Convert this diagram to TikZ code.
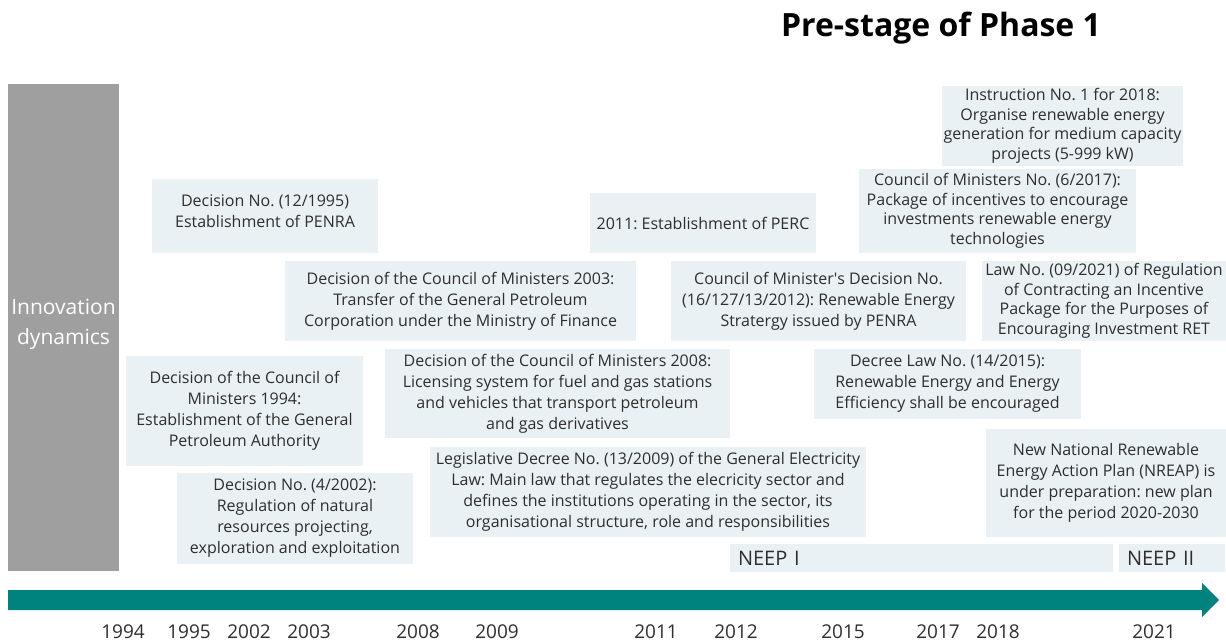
\documentclass[tikz,border=0pt]{standalone}
\usepackage{fontspec}
\setmainfont{Open Sans}
\definecolor{boxfill}{HTML}{EAF1F4}
\definecolor{barGray}{HTML}{9F9F9F}
\definecolor{tealA}{HTML}{00827F}
\definecolor{txt}{HTML}{2E2E2E}
\frenchspacing
\begin{document}
\begin{tikzpicture}[x=1pt,y=-1pt,
  ev/.style={fill=boxfill, text=txt, inner sep=0pt, align=center, font=\fontsize{16}{21}\selectfont},
  evtight/.style={ev, font=\fontsize{16}{19.5}\selectfont},
  evtext/.style={text=txt, inner sep=0pt, align=center, font=\fontsize{16}{21}\selectfont},
  neepbar/.style={fill=boxfill, text=txt, inner ysep=0pt, inner xsep=8pt, align=left, font=\fontsize{20}{24}\selectfont, minimum height=28pt},
  yr/.style={text=txt, inner sep=0pt, font=\fontsize{19}{21}\selectfont},
]
\useasboundingbox (0,0) rectangle (1226,641);

% title
\node[text=black, font=\fontsize{32}{36}\selectfont\bfseries] (title) at (941,28) {Pre-stage of Phase 1};

% gray side bar
\node[fill=barGray, minimum width=111pt, minimum height=487pt, inner sep=0pt] (side) at (63.5,327.5) {};
\node[text=white, align=center, inner sep=0pt, font=\fontsize{21}{30}\selectfont] (sidelbl) at (63.5,324) {Innovation\\dynamics};

% event boxes
\node[ev, minimum width=226pt, minimum height=74pt] (b1995) at (265,216) {};
\node[evtext] (b1995t) at (265,211) {Decision No. (12/1995)\\Establishment of PENRA};
\node[ev, minimum width=351pt, minimum height=80pt] (b2003) at (460.5,301)
  {Decision of the Council of Ministers 2003:\\Transfer of the General Petroleum\\Corporation under the Ministry of Finance};
\node[ev, minimum width=237pt, minimum height=110pt] (b1994) at (244.5,411)
  {Decision of the Council of\\Ministers 1994:\\Establishment of the General\\Petroleum Authority};
\node[ev, minimum width=345pt, minimum height=89pt] (b2008) at (557.5,393.5)
  {Decision of the Council of Ministers 2008:\\Licensing system for fuel and gas stations\\and vehicles that transport petroleum\\and gas derivatives};
\node[ev, minimum width=236pt, minimum height=91pt] (b2002) at (295,518.5)
  {Decision No. (4/2002):\\Regulation of natural\\resources projecting,\\exploration and exploitation};
\node[ev, minimum width=436pt, minimum height=90pt] (b2009) at (648,492)
  {Legislative Decree No. (13/2009) of the General Electricity\\Law: Main law that regulates the elecricity sector and\\defines the institutions operating in the sector, its\\organisational structure, role and responsibilities};
\node[ev, minimum width=226pt, minimum height=60pt] (b2011) at (703,223)
  {2011: Establishment of PERC};
\node[ev, minimum width=295pt, minimum height=80pt] (b2012) at (818.5,301)
  {Council of Minister\textquotesingle s Decision No.\\(16/127/13/2012): Renewable Energy\\Stratergy issued by PENRA};
\node[ev, minimum width=267pt, minimum height=70pt] (b2015) at (947.5,384)
  {Decree Law No. (14/2015):\\Renewable Energy and Energy\\Efficiency shall be encouraged};
\node[evtight, minimum width=241pt, minimum height=80pt] (b2018) at (1062.5,126)
  {Instruction No. 1 for 2018:\\Organise renewable energy\\generation for medium capacity\\projects (5-999 kW)};
\node[evtight, minimum width=277pt, minimum height=84pt] (b2017) at (997.5,211)
  {Council of Ministers No. (6/2017):\\Package of incentives to encourage\\investments renewable energy\\technologies};
\node[evtight, minimum width=244pt, minimum height=80pt] (b2021) at (1104,301)
  {Law No. (09/2021) of Regulation\\of Contracting an Incentive\\Package for the Purposes of\\Encouraging Investment RET};
\node[ev, minimum width=240pt, minimum height=108pt] (bnreap) at (1106,483)
  {New National Renewable\\Energy Action Plan (NREAP) is\\under preparation: new plan\\for the period 2020-2030};

% NEEP bars
\node[neepbar, text width=367pt] (neep1) at (921.5,558) {NEEP I};
\node[neepbar, text width=90pt] (neep2) at (1172,558) {NEEP II};

% timeline arrow
\fill[tealA] (8,590) -- (1202,590) -- (1202,583) -- (1219,600) -- (1202,617) -- (1202,610) -- (8,610) -- cycle;

% years
\node[yr] (y1994) at (123,632) {1994};
\node[yr] (y1995) at (189,632) {1995};
\node[yr] (y2002) at (249,632) {2002};
\node[yr] (y2003) at (309,632) {2003};
\node[yr] (y2008) at (418,632) {2008};
\node[yr] (y2009) at (497,632) {2009};
\node[yr] (y2011) at (656,632) {2011};
\node[yr] (y2012) at (736,632) {2012};
\node[yr] (y2015) at (843,632) {2015};
\node[yr] (y2017) at (938,632) {2017};
\node[yr] (y2018) at (998,632) {2018};
\node[yr] (y2021) at (1154,632) {2021};
\end{tikzpicture}
\end{document}
